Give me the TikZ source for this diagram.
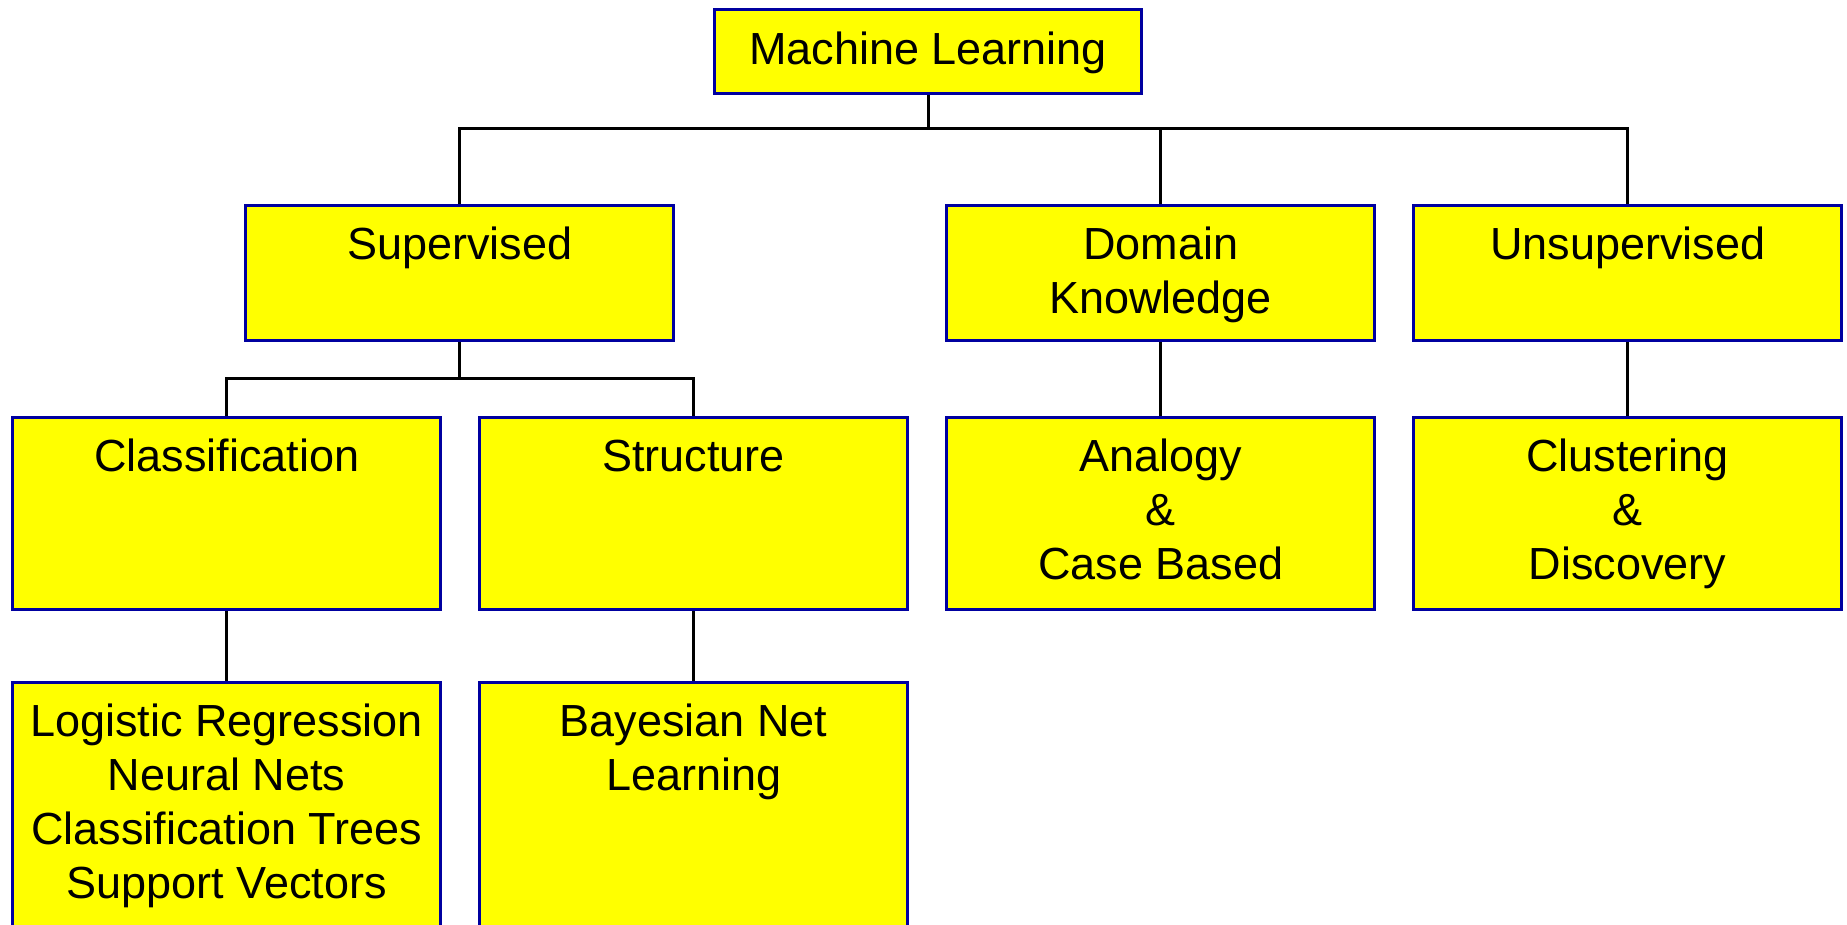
\documentclass[tikz,border=0pt]{standalone}
\usepackage{fontspec}
\setmainfont{Liberation Sans}
\definecolor{boxblue}{RGB}{0,0,160}
\definecolor{boxfill}{RGB}{255,255,0}
\tikzset{
  box/.style={draw=boxblue, fill=boxfill, line width=3.2pt, anchor=north west, inner sep=0pt, minimum width=428pt},
  txt/.style={anchor=north, inner sep=0pt, align=center, font=\fontsize{45}{54}\selectfont},
  conn/.style={draw=black, line width=3pt}
}
\begin{document}
\begin{tikzpicture}[x=1pt,y=1pt]
\clip (0,0) rectangle (1847,-924);
\fill[white] (0,0) rectangle (1847,-924);
% boxes
\node[box, minimum width=427pt, minimum height=84pt] (ml) at (713,-8) {};
\node[box, minimum height=135pt] (sup) at (244,-204) {};
\node[box, minimum height=135pt] (dom) at (945,-204) {};
\node[box, minimum height=135pt] (uns) at (1412,-204) {};
\node[box, minimum height=192pt] (cls) at (11,-416) {};
\node[box, minimum height=192pt] (str) at (478,-416) {};
\node[box, minimum height=192pt] (ana) at (945,-416) {};
\node[box, minimum height=192pt] (clu) at (1412,-416) {};
\node[box, minimum height=280pt] (alg) at (11,-681) {};
\node[box, minimum height=280pt] (bay) at (478,-681) {};
% texts
\node[txt] (mlt) at ([yshift=-18.5pt]ml.north) {\strut Machine Learning};
\node[txt] (supt) at ([yshift=-17pt]sup.north) {\strut Supervised};
\node[txt] (domt) at ([yshift=-17pt]dom.north) {\strut Domain\\Knowledge};
\node[txt] (unst) at ([yshift=-17pt]uns.north) {\strut Unsupervised};
\node[txt] (clst) at ([yshift=-17pt]cls.north) {\strut Classification};
\node[txt] (strt) at ([yshift=-17pt]str.north) {\strut Structure};
\node[txt] (anat) at ([yshift=-17pt]ana.north) {\strut Analogy\\\&\\Case Based};
\node[txt] (clut) at ([yshift=-17pt]clu.north) {\strut Clustering\\\&\\Discovery};
\node[txt] (algt) at ([yshift=-17pt]alg.north) {\strut Logistic Regression\\Neural Nets\\Classification Trees\\Support Vectors};
\node[txt] (bayt) at ([yshift=-17pt]bay.north) {\strut Bayesian Net\\Learning};
% connectors
\coordinate (bus1) at (0,-128);
\coordinate (bus2) at (0,-378);
\draw[conn] (ml.south) -- (ml.south |- bus1);
\draw[conn] (sup.north) -- (sup.north |- bus1) -- (uns.north |- bus1) -- (uns.north);
\draw[conn] (dom.north) -- (dom.north |- bus1);
\draw[conn] (sup.south) -- (sup.south |- bus2);
\draw[conn] (cls.north) -- (cls.north |- bus2) -- (str.north |- bus2) -- (str.north);
\draw[conn] (dom.south) -- (ana.north);
\draw[conn] (uns.south) -- (clu.north);
\draw[conn] (cls.south) -- (alg.north);
\draw[conn] (str.south) -- (bay.north);
\end{tikzpicture}
\end{document}
